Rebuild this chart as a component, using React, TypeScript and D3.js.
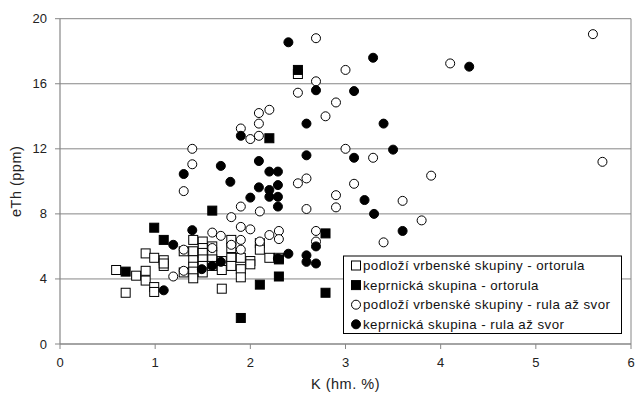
import React from "react";
import * as d3 from "d3";

const xTicks = [0, 1, 2, 3, 4, 5, 6];
const yTicks = [0, 4, 8, 12, 16, 20];

const legendLabels = [
  "podloží vrbenské skupiny - ortorula",
  "keprnická skupina - ortorula",
  "podloží vrbenské skupiny - rula až svor",
  "keprnická skupina - rula až svor",
];

// Series 1: podloží vrbenské skupiny - ortorula (open squares)
const s1K = [0.59, 0.69, 0.8, 0.9, 0.9, 0.9, 0.99, 0.99, 0.99, 1.09, 1.09, 1.09, 1.3, 1.3,
  1.4, 1.4, 1.4, 1.4, 1.4, 1.4, 1.5, 1.5, 1.5, 1.5, 1.5, 1.5, 1.6, 1.6, 1.6, 1.6,
  1.7, 1.7, 1.7, 1.8, 1.8, 1.8, 1.8, 1.9, 1.9, 1.9, 2.0, 2.0, 2.1, 2.1, 2.2, 2.3, 2.5];
const s1Th = [4.55, 3.15, 4.2, 5.57, 4.5, 3.9, 5.3, 3.5, 3.2, 5.15, 4.8, 4.95, 5.7, 4.4,
  6.4, 5.7, 5.15, 4.75, 4.45, 4.04, 6.3, 5.9, 5.6, 5.2, 4.8, 4.4, 6.0, 5.5, 5.2, 4.8,
  5.1, 4.55, 3.4, 6.4, 5.9, 5.3, 4.8, 5.3, 4.6, 4.1, 5.1, 4.9, 6.2, 5.8, 5.3, 5.3, 16.6];

// Series 2: keprnická skupina - ortorula (filled squares)
const s2K = [0.69, 0.99, 1.09, 1.6, 1.9, 2.1, 2.3, 2.3, 2.2, 2.5, 2.79, 2.79];
const s2Th = [4.45, 7.15, 6.4, 8.2, 1.6, 3.65, 4.15, 5.2, 12.65, 16.85, 6.8, 3.15];

// Series 3: podloží vrbenské skupiny - rula až svor (open circles)
const s3K = [1.39, 1.39, 1.3, 1.9, 2.0, 2.09, 2.09, 2.09, 2.2, 2.5, 2.69, 2.69, 2.5, 2.59,
  3.0, 2.9, 2.79, 3.0, 3.29, 3.09, 3.9, 4.1, 5.6, 5.7, 2.9, 3.6, 2.9, 2.59, 3.8, 3.4,
  2.69, 2.69, 1.19, 1.3, 1.3, 1.6, 1.69, 1.8, 1.9, 1.9, 2.0, 1.9, 1.9, 2.1, 2.1, 2.2,
  2.3, 2.3, 1.8, 1.6];
const s3Th = [12.0, 11.05, 9.4, 13.25, 12.6, 12.8, 13.55, 14.2, 14.4, 15.45, 18.8, 16.15, 9.88, 10.18,
  16.85, 14.85, 14.0, 12.0, 11.45, 9.85, 10.35, 17.25, 19.05, 11.2, 9.15, 8.8, 8.4, 8.3, 7.6, 6.25,
  6.95, 6.3, 4.15, 5.8, 4.5, 6.85, 6.65, 7.8, 8.45, 7.2, 7.05, 6.4, 5.8, 8.15, 6.3, 6.7,
  6.95, 6.45, 6.1, 5.9];

// Series 4: keprnická skupina - rula až svor (filled circles)
const s4K = [2.4, 2.69, 2.59, 2.59, 1.9, 1.69, 1.3, 1.79, 2.09, 2.2, 2.29, 2.09, 2.2, 2.2,
  2.29, 2.29, 2.0, 2.29, 3.29, 4.3, 3.09, 3.4, 3.5, 3.09, 3.2, 3.3, 3.6,
  1.39, 1.19, 1.09, 1.49, 1.6, 1.69, 2.4, 2.29, 2.59, 2.59, 2.69, 2.69];
const s4Th = [18.55, 15.6, 13.55, 11.6, 12.8, 10.95, 10.45, 9.97, 11.25, 10.6, 10.6, 9.63, 9.47, 9.05,
  9.77, 9.05, 9.0, 8.45, 17.6, 17.05, 15.55, 13.55, 11.95, 11.45, 8.85, 8.0, 6.95,
  7.0, 6.1, 3.3, 4.6, 4.8, 5.05, 5.55, 5.25, 5.45, 5.05, 6.0, 4.95];

const W = 635;
const H = 393;
const left = 60;
const right = 631;
const top = 18.7;
const bottom = 344;

const FONT = "Arial, 'Liberation Sans', sans-serif";
const GRID = "#868686";

type Series = { k: number[]; th: number[]; shape: "square" | "circle"; filled: boolean };

const series: Series[] = [
  { k: s1K, th: s1Th, shape: "square", filled: false },
  { k: s2K, th: s2Th, shape: "square", filled: true },
  { k: s3K, th: s3Th, shape: "circle", filled: false },
  { k: s4K, th: s4Th, shape: "circle", filled: true },
];

function Marker({ cx, cy, shape, filled }: { cx: number; cy: number; shape: string; filled: boolean }) {
  const fill = filled ? "#000" : "#fff";
  if (shape === "square") {
    const s = 9;
    return <rect x={cx - s / 2} y={cy - s / 2} width={s} height={s} fill={fill} stroke="#000" strokeWidth={1} />;
  }
  return <circle cx={cx} cy={cy} r={4.5} fill={fill} stroke="#000" strokeWidth={1} />;
}

export default function App() {
  const x = d3.scaleLinear().domain([0, 6]).range([left, right]);
  const y = d3.scaleLinear().domain([0, 20]).range([bottom, top]);

  const legX = 343.5;
  const legY = 256;
  const legW = 278;
  const legH = 77.5;
  const rowH = 19.6;

  return (
    <div style={{ position: "fixed", left: 0, top: 0 }}>
      <svg width={W} height={H} style={{ display: "block", background: "#fff" }}>
        {/* gridlines */}
        {yTicks.map((t) => (
          <line key={"g" + t} x1={left} x2={right} y1={y(t)} y2={y(t)} stroke={GRID} strokeWidth={1} />
        ))}
        {/* frame */}
        <line x1={right} x2={right} y1={top} y2={bottom} stroke={GRID} strokeWidth={1} />
        <line x1={left} x2={left} y1={top} y2={bottom} stroke={GRID} strokeWidth={1.2} />
        <line x1={left} x2={right} y1={bottom} y2={bottom} stroke={GRID} strokeWidth={1.2} />
        {/* y ticks */}
        {yTicks.map((t) => (
          <g key={"yt" + t}>
            <line x1={left - 5} x2={left} y1={y(t)} y2={y(t)} stroke={GRID} strokeWidth={1} />
            <text x={left - 13} y={y(t)} dy="0.35em" textAnchor="end" fontFamily={FONT} fontSize={13} fill="#222">
              {t}
            </text>
          </g>
        ))}
        {/* x ticks */}
        {xTicks.map((t) => (
          <g key={"xt" + t}>
            <line x1={x(t)} x2={x(t)} y1={bottom} y2={bottom + 5} stroke={GRID} strokeWidth={1} />
            <text x={x(t)} y={366.5} textAnchor="middle" fontFamily={FONT} fontSize={13} fill="#222">
              {t}
            </text>
          </g>
        ))}
        {/* axis titles */}
        <text x={(left + right) / 2} y={389} textAnchor="middle" fontFamily={FONT} fontSize={14.5} letterSpacing={0.5} fill="#222">
          K (hm. %)
        </text>
        <text
          transform={`translate(20.5, ${(top + bottom) / 2}) rotate(-90)`}
          textAnchor="middle"
          fontFamily={FONT}
          fontSize={14.5}
          letterSpacing={0.5}
          fill="#222"
        >
          eTh (ppm)
        </text>
        {/* points */}
        {series.map((s, si) => (
          <g key={"s" + si}>
            {s.k.map((kv, i) => (
              <Marker key={i} cx={x(kv)} cy={y(s.th[i])} shape={s.shape} filled={s.filled} />
            ))}
          </g>
        ))}
        {/* legend */}
        <rect x={legX} y={legY} width={legW} height={legH} fill="#fff" stroke="#000" strokeWidth={1} />
        {legendLabels.map((lab, i) => {
          const cy = legY + 9.5 + i * rowH;
          return (
            <g key={"l" + i}>
              <Marker cx={356} cy={cy} shape={series[i].shape} filled={series[i].filled} />
              <text x={363} y={cy} dy="0.36em" fontFamily={FONT} fontSize={13.3} letterSpacing={0.45} fill="#111">
                {lab}
              </text>
            </g>
          );
        })}
      </svg>
    </div>
  );
}
